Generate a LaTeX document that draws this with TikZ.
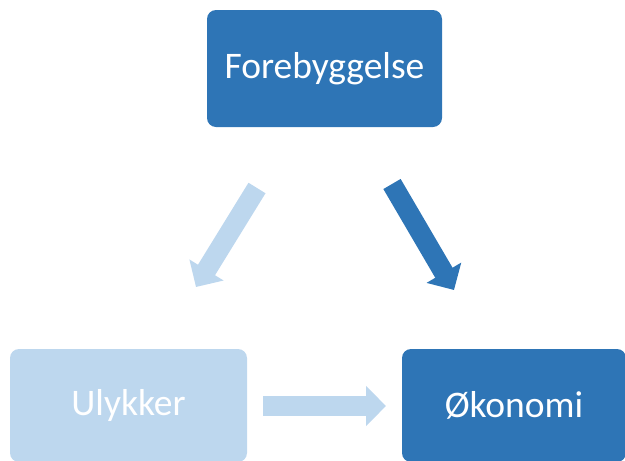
\documentclass[tikz,border=0pt]{standalone}
\usepackage{fontspec}
\setmainfont{Carlito}
\usetikzlibrary{arrows.meta}
\definecolor{darkblue}{HTML}{2E75B6}
\definecolor{lightblue}{HTML}{BDD7EE}
\begin{document}
\begin{tikzpicture}[x=1pt,y=-1pt,
  box/.style={rounded corners=9pt, minimum width=#1, minimum height=113pt, text=white, font=\fontsize{37.5}{42}\selectfont, inner sep=0pt},
  blockarrow/.style={line width=20pt, -{Triangle[length=20pt,width=39pt]}}]
\useasboundingbox (0,0) rectangle (625,461);
\node[box=235pt, fill=darkblue, minimum height=117pt] (fore) at (324.5,68.5) {Forebyggelse};
\node[box=237pt, fill=lightblue] (ulyk) at (128.5,405.5) {Ulykker};
\node[box=224pt, fill=darkblue] (okon) at (514,405.5) {Økonomi};
\coordinate (l1) at (257,188);
\coordinate (l2) at (196,287);
\coordinate (r1) at (392,184);
\coordinate (r2) at (454,290);
\coordinate (h1) at (263,406);
\coordinate (h2) at (386,406);
\draw[blockarrow, lightblue] (l1) -- (l2);
\draw[blockarrow, darkblue] (r1) -- (r2);
\draw[blockarrow, lightblue] (h1) -- (h2);
\end{tikzpicture}
\end{document}
